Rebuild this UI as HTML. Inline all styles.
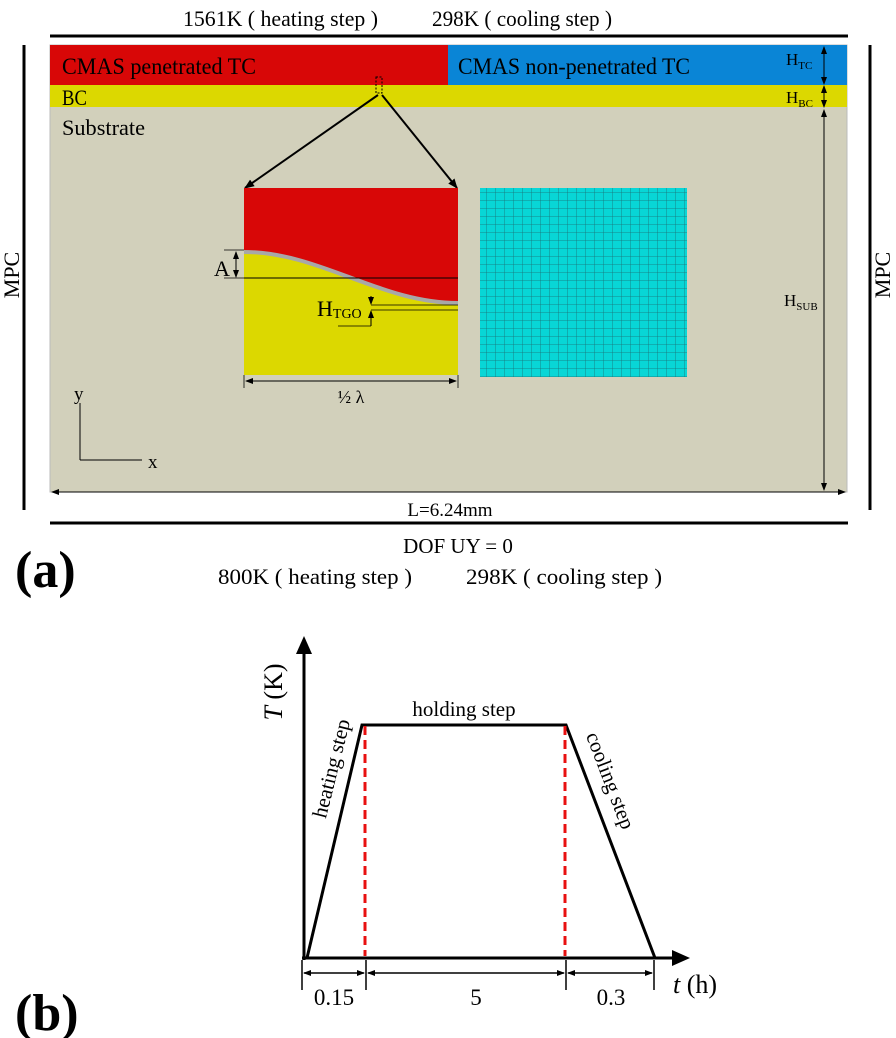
<!DOCTYPE html>
<html><head><meta charset="utf-8"><style>
html,body{margin:0;padding:0;background:#fff;}
svg{display:block;font-family:"Liberation Serif",serif;}
</style></head><body>
<svg width="896" height="1038" viewBox="0 0 896 1038" xmlns="http://www.w3.org/2000/svg">
<defs>
<marker id="ah" markerWidth="10" markerHeight="10" refX="9" refY="5" orient="auto" markerUnits="userSpaceOnUse"><path d="M0,1 L10,5 L0,9 z" fill="#000"/></marker>
<marker id="sa" markerWidth="8" markerHeight="8" refX="7" refY="4" orient="auto-start-reverse" markerUnits="userSpaceOnUse"><path d="M0,1 L8,4 L0,7 z" fill="#000"/></marker>
<pattern id="mesh" width="9" height="8" patternUnits="userSpaceOnUse"><rect width="9" height="8" fill="#08d6d6"/><path d="M0,0 H9 M0,0 V8" stroke="#1a6f74" stroke-width="0.8"/></pattern>
</defs>
<text x="183" y="26" font-size="22" textLength="195" lengthAdjust="spacingAndGlyphs">1561K ( heating step )</text>
<text x="432" y="26" font-size="22" textLength="180" lengthAdjust="spacingAndGlyphs">298K ( cooling step )</text>
<line x1="50" y1="36" x2="848" y2="36" stroke="#000" stroke-width="3"/>
<line x1="24" y1="45" x2="24" y2="510" stroke="#000" stroke-width="3"/>
<line x1="870" y1="45" x2="870" y2="510" stroke="#000" stroke-width="3"/>
<text transform="translate(19,275) rotate(-90)" font-size="22" text-anchor="middle">MPC</text>
<text transform="translate(890,275) rotate(-90)" font-size="22" text-anchor="middle">MPC</text>
<rect x="50" y="45" width="797" height="447" fill="#d2d0bb" stroke="#bbb"/>
<rect x="50" y="45" width="398" height="40" fill="#d80707"/>
<rect x="448" y="45" width="399" height="40" fill="#0a85d6"/>
<rect x="50" y="85" width="797" height="22" fill="#dcd800"/>
<text x="62" y="74" font-size="23" textLength="194" lengthAdjust="spacingAndGlyphs">CMAS penetrated TC</text>
<text x="458" y="74" font-size="23" textLength="232" lengthAdjust="spacingAndGlyphs">CMAS non-penetrated TC</text>
<text x="62" y="105" font-size="22" textLength="25" lengthAdjust="spacingAndGlyphs">BC</text>
<text x="62" y="135" font-size="22" textLength="83" lengthAdjust="spacingAndGlyphs">Substrate</text>
<text x="786" y="65" font-size="17">H<tspan font-size="11" dy="4">TC</tspan></text>
<text x="786" y="103" font-size="17">H<tspan font-size="11" dy="4">BC</tspan></text>
<text x="784" y="306" font-size="17">H<tspan font-size="11" dy="4">SUB</tspan></text>
<line x1="824" y1="47" x2="824" y2="84" stroke="#000" marker-start="url(#sa)" marker-end="url(#sa)"/>
<line x1="824" y1="86" x2="824" y2="107" stroke="#000" marker-start="url(#sa)" marker-end="url(#sa)"/>
<line x1="824" y1="110" x2="824" y2="490" stroke="#000" marker-start="url(#sa)" marker-end="url(#sa)"/>
<rect x="376" y="77" width="6" height="16" fill="none" stroke="#000" stroke-dasharray="2,1.5"/>
<line x1="378" y1="95" x2="245" y2="188" stroke="#000" stroke-width="2" marker-end="url(#ah)"/>
<line x1="382" y1="95" x2="457" y2="188" stroke="#000" stroke-width="2" marker-end="url(#ah)"/>
<rect x="244" y="188" width="214" height="187" fill="#dcd800"/>
<path d="M244,188 H458 V303 C380,303 320,252 244,252 Z" fill="#d80707"/>
<path d="M244,252 C320,252 380,303 458,303" fill="none" stroke="#a8a8a8" stroke-width="4"/>
<line x1="244" y1="278" x2="458" y2="278" stroke="#000" stroke-width="1"/>
<line x1="224" y1="250" x2="244" y2="250" stroke="#000" stroke-width="0.8"/>
<line x1="224" y1="278" x2="244" y2="278" stroke="#000" stroke-width="0.8"/>
<line x1="236" y1="252" x2="236" y2="277" stroke="#000" marker-start="url(#sa)" marker-end="url(#sa)"/>
<text x="214" y="276" font-size="22">A</text>
<line x1="371" y1="305" x2="458" y2="305" stroke="#000" stroke-width="0.8"/>
<line x1="371" y1="310" x2="458" y2="310" stroke="#000" stroke-width="0.8"/>
<line x1="371" y1="296" x2="371" y2="304" stroke="#000" marker-end="url(#sa)"/>
<line x1="371" y1="326" x2="371" y2="311" stroke="#000" marker-end="url(#sa)"/>
<line x1="338" y1="326" x2="371" y2="326" stroke="#000" stroke-width="0.8"/>
<text x="317" y="316" font-size="22">H<tspan font-size="14" dy="2">TGO</tspan></text>
<line x1="244" y1="375" x2="244" y2="388" stroke="#000" stroke-width="0.8"/>
<line x1="458" y1="375" x2="458" y2="388" stroke="#000" stroke-width="0.8"/>
<line x1="246" y1="381" x2="456" y2="381" stroke="#000" marker-start="url(#sa)" marker-end="url(#sa)"/>
<text x="351" y="403" font-size="18" text-anchor="middle">½ λ</text>
<rect x="480" y="188" width="207" height="189" fill="url(#mesh)"/>
<line x1="80" y1="403" x2="80" y2="460" stroke="#000"/>
<line x1="80" y1="460" x2="142" y2="460" stroke="#000"/>
<text x="74" y="400" font-size="19">y</text>
<text x="148" y="468" font-size="19">x</text>
<line x1="52" y1="492" x2="845" y2="492" stroke="#000" marker-start="url(#sa)" marker-end="url(#sa)"/>
<text x="450" y="516" font-size="19" text-anchor="middle">L=6.24mm</text>
<line x1="50" y1="523" x2="848" y2="523" stroke="#000" stroke-width="3"/>
<text x="458" y="553" font-size="21" text-anchor="middle">DOF UY = 0</text>
<text x="218" y="584" font-size="22" textLength="194" lengthAdjust="spacingAndGlyphs">800K ( heating step )</text>
<text x="466" y="584" font-size="22" textLength="196" lengthAdjust="spacingAndGlyphs">298K ( cooling step )</text>
<text x="15" y="587" font-size="52" font-weight="bold">(a)</text>
<line x1="304" y1="960" x2="304" y2="650" stroke="#000" stroke-width="3"/>
<path d="M296,654 L304,636 L312,654 z" fill="#000"/>
<line x1="302" y1="958" x2="676" y2="958" stroke="#000" stroke-width="3"/>
<path d="M672,950 L690,958 L672,966 z" fill="#000"/>
<polyline points="307,958 362,725 566,725 655,958" fill="none" stroke="#000" stroke-width="3"/>
<line x1="365" y1="726" x2="365" y2="956" stroke="#e81010" stroke-width="3" stroke-dasharray="9,5"/>
<line x1="565" y1="726" x2="565" y2="956" stroke="#e81010" stroke-width="3" stroke-dasharray="9,5"/>
<text x="464" y="716" font-size="21" text-anchor="middle">holding step</text>
<text transform="translate(338,770) rotate(-76)" font-size="21" text-anchor="middle">heating step</text>
<text transform="translate(604,783) rotate(69)" font-size="21" text-anchor="middle">cooling step</text>
<text transform="translate(282,692) rotate(-90)" font-size="26" text-anchor="middle"><tspan font-style="italic">T</tspan> (K)</text>
<g stroke="#000" stroke-width="1.5">
<line x1="302" y1="960" x2="302" y2="990"/><line x1="366" y1="960" x2="366" y2="990"/>
<line x1="566" y1="960" x2="566" y2="990"/><line x1="654" y1="960" x2="654" y2="990"/>
</g>
<g stroke="#000" stroke-width="1.5">
<line x1="304" y1="973" x2="364" y2="973" marker-start="url(#sa)" marker-end="url(#sa)"/>
<line x1="368" y1="973" x2="564" y2="973" marker-start="url(#sa)" marker-end="url(#sa)"/>
<line x1="568" y1="973" x2="652" y2="973" marker-start="url(#sa)" marker-end="url(#sa)"/>
</g>
<text x="334" y="1005" font-size="23" text-anchor="middle">0.15</text>
<text x="476" y="1005" font-size="23" text-anchor="middle">5</text>
<text x="611" y="1005" font-size="23" text-anchor="middle">0.3</text>
<text x="673" y="993" font-size="26"><tspan font-style="italic">t</tspan> (h)</text>
<text x="15" y="1030" font-size="52" font-weight="bold">(b)</text>
</svg>
</body></html>
